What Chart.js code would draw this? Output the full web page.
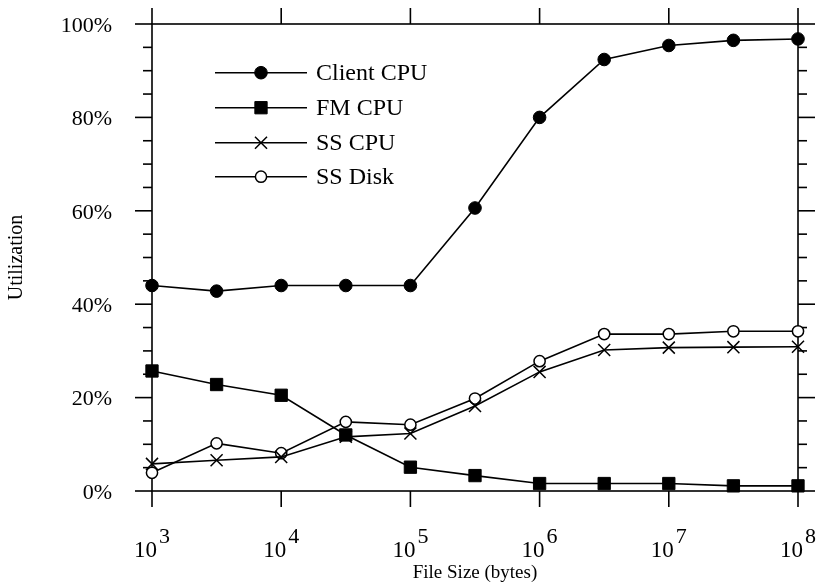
<!DOCTYPE html>
<html>
<head>
<meta charset="utf-8">
<script src="https://cdn.jsdelivr.net/npm/chart.js@4/dist/chart.umd.min.js"></script>
<style>
  html, body { margin: 0; padding: 0; background: #fff; }
  #wrap { width: 817px; height: 588px; position: relative; }
</style>
</head>
<body>
<div id="wrap"><canvas id="c"></canvas></div>
<script>
// ---- data ----
const fileSizes = [1e3, 3162, 1e4, 31623, 1e5, 316228, 1e6, 3162278, 1e7, 31622777, 1e8];
const clientCpu = [44.0, 42.8, 44.0, 44.0, 44.0, 60.6, 80.0, 92.4, 95.4, 96.5, 96.8];
const fmCpu     = [25.7, 22.8, 20.5, 12.0, 5.1, 3.3, 1.6, 1.6, 1.6, 1.1, 1.1];
const ssCpu     = [5.8, 6.6, 7.3, 11.6, 12.3, 18.2, 25.5, 30.2, 30.7, 30.8, 30.9];
const ssDisk    = [3.9, 10.2, 8.1, 14.8, 14.2, 19.8, 27.8, 33.6, 33.6, 34.2, 34.2];
const seriesNames = ['Client CPU', 'FM CPU', 'SS CPU', 'SS Disk'];
const xTickExponents = [3, 4, 5, 6, 7, 8];
const yTickValues = [0, 20, 40, 60, 80, 100];
const xTitle = 'File Size (bytes)';
const yTitle = 'Utilization';

const FONT = "'Liberation Serif', 'Times New Roman', serif";

function pts(vals) { return fileSizes.map((s, i) => ({ x: s, y: vals[i] })); }

const styles = [
  { pointStyle: 'circle',   radius: 6.3, bg: '#000', bw: 1 },
  { pointStyle: 'rect',     radius: 8.7, bg: '#000', bw: 1 },
  { pointStyle: 'crossRot', radius: 8.5, bg: '#000', bw: 1.5 },
  { pointStyle: 'circle',   radius: 5.6, bg: '#fff', bw: 1.5 }
];
const seriesValues = [clientCpu, fmCpu, ssCpu, ssDisk];

const datasets = seriesValues.map((vals, i) => ({
  label: seriesNames[i],
  data: pts(vals),
  borderColor: '#000',
  borderWidth: 1.6,
  backgroundColor: styles[i].bg,
  pointStyle: styles[i].pointStyle,
  pointRadius: styles[i].radius,
  pointBackgroundColor: styles[i].bg,
  pointBorderColor: '#000',
  pointBorderWidth: styles[i].bw,
  tension: 0,
  fill: false,
  clip: false
}));

function line(ctx, x1, y1, x2, y2) {
  ctx.beginPath(); ctx.moveTo(x1, y1); ctx.lineTo(x2, y2); ctx.stroke();
}

const framePlugin = {
  id: 'frame',
  beforeDatasetsDraw(chart) {
    const { ctx, chartArea: a, scales: { x, y } } = chart;
    ctx.save();
    ctx.strokeStyle = '#000';
    ctx.lineWidth = 1.6;
    ctx.strokeRect(a.left, a.top, a.right - a.left, a.bottom - a.top);
    xTickExponents.forEach(e => {
      const px = x.getPixelForValue(Math.pow(10, e));
      line(ctx, px, a.bottom, px, a.bottom + 16);
      line(ctx, px, a.top, px, a.top - 16);
    });
    for (let v = 0; v <= 100; v += 5) {
      const len = (v % 20 === 0) ? 17 : 9;
      const py = y.getPixelForValue(v);
      line(ctx, a.left - len, py, a.left, py);
      line(ctx, a.right, py, a.right + len, py);
    }
    ctx.restore();
  },
  afterDraw(chart) {
    const { ctx, chartArea: a, scales: { x } } = chart;
    ctx.save();
    ctx.fillStyle = '#000';
    ctx.textBaseline = 'alphabetic';
    // x tick labels: 10^n
    xTickExponents.forEach(e => {
      const px = x.getPixelForValue(Math.pow(10, e));
      ctx.font = '23px ' + FONT;
      const w1 = ctx.measureText('10').width;
      ctx.font = '22px ' + FONT;
      const w2 = ctx.measureText(String(e)).width;
      const gap = 2;
      const start = px - (w1 + gap + w2) / 2;
      ctx.font = '23px ' + FONT;
      ctx.fillText('10', start, a.bottom + 66);
      ctx.font = '22px ' + FONT;
      ctx.fillText(String(e), start + w1 + gap, a.bottom + 52);
    });
    // legend
    const rowY = [72.7, 107.7, 142.7, 176.7];
    ctx.font = '24px ' + FONT;
    datasets.forEach((ds, i) => {
      const yy = rowY[i];
      ctx.strokeStyle = '#000';
      ctx.lineWidth = 1.6;
      line(ctx, 215, yy, 307, yy);
      ctx.fillStyle = styles[i].bg;
      ctx.strokeStyle = '#000';
      ctx.lineWidth = styles[i].bw;
      Chart.helpers.drawPoint(ctx, { pointStyle: styles[i].pointStyle, radius: styles[i].radius, borderWidth: styles[i].bw, rotation: 0 }, 261, yy);
      ctx.fillStyle = '#000';
      ctx.textBaseline = 'middle';
      ctx.textAlign = 'left';
      ctx.fillText(ds.label, 316, yy + 1);
    });
    ctx.restore();
  }
};

new Chart(document.getElementById('c'), {
  type: 'line',
  data: { datasets },
  plugins: [framePlugin],
  options: {
    responsive: true,
    maintainAspectRatio: false,
    animation: false,
    devicePixelRatio: 1,
    layout: { padding: { top: 24, right: 19, left: 0, bottom: 0 } },
    plugins: { legend: { display: false }, tooltip: { enabled: false } },
    scales: {
      x: {
        type: 'logarithmic',
        min: 1e3,
        max: 1e8,
        afterBuildTicks: (scale) => { scale.ticks = xTickExponents.map(e => ({ value: Math.pow(10, e) })); },
        afterFit: (scale) => { scale.height = 97; scale.paddingLeft = 0; scale.paddingRight = 0; },
        grid: { display: false, drawTicks: false },
        border: { display: false },
        ticks: { display: false },
        title: { display: true, text: xTitle, color: '#000', font: { family: FONT, size: 19 }, padding: { top: 0, bottom: 4 } }
      },
      y: {
        min: 0,
        max: 100,
        afterBuildTicks: (scale) => { scale.ticks = yTickValues.map(v => ({ value: v })); },
        afterFit: (scale) => { scale.width = 152; scale.paddingTop = 0; scale.paddingBottom = 0; },
        grid: { display: false, drawTicks: false },
        border: { display: false },
        ticks: {
          color: '#000',
          font: { family: FONT, size: 22 },
          padding: 40,
          labelOffset: 2,
          callback: (v) => v + '%'
        },
        title: { display: true, text: yTitle, color: '#000', font: { family: FONT, size: 20 }, padding: { top: 5, bottom: 0 } }
      }
    }
  }
});
</script>
</body>
</html>
